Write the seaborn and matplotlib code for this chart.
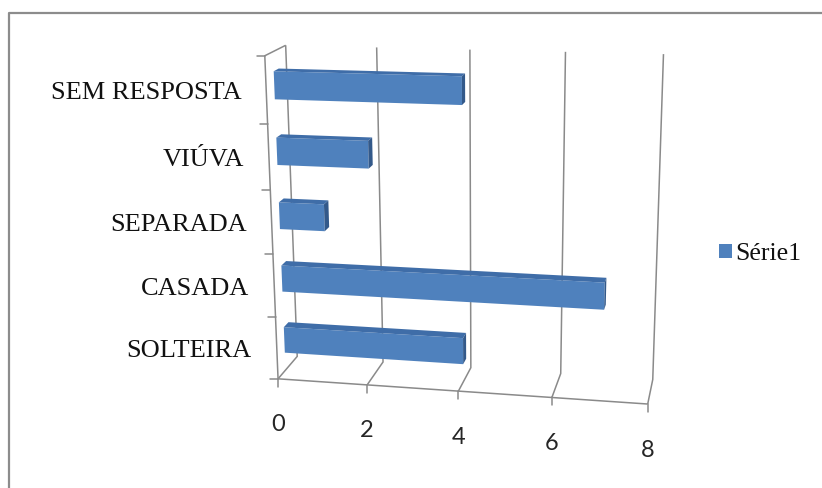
import numpy as np
import pandas as pd
import matplotlib
matplotlib.use("Agg")
import matplotlib.pyplot as plt
import matplotlib.transforms as mtransforms
from matplotlib.lines import Line2D
from matplotlib.patches import Polygon
import seaborn as sns

# ---- data -------------------------------------------------------------
categorias = ["SEM RESPOSTA", "VIÚVA", "SEPARADA", "CASADA", "SOLTEIRA"]
valores = [4, 2, 1, 7, 4]
serie = "Série1"
xticks = [0, 2, 4, 6, 8]
xticklabels = ["0", "2", "4", "6", "8"]

# ---- figure -------------------------------------------------------------
W, H = 822, 488
DPI = 100
sns.set_theme(style="white")
plt.rcParams["font.family"] = ["Liberation Serif", "DejaVu Serif"]

fig = plt.figure(figsize=(W / DPI, H / DPI), dpi=DPI)
fig.patch.set_facecolor("white")
ax = fig.add_axes([0, 0, 1, 1])
ax.set_axis_off()
PIX = mtransforms.IdentityTransform()

# ---- 3D box (value, height, depth) -> canvas pixel perspective camera -----
box3d = np.array([
    [0, 5, 0], [0, 5, 1], [0, 0, 0], [0, 0, 1], [8, 0, 0], [8, 5, 1],
    [2, 5, 1], [4, 5, 1], [6, 5, 1],
    [2, 0, 1], [4, 0, 1], [6, 0, 1],
    [2, 0, 0], [4, 0, 0], [6, 0, 0],
], dtype=float)
box2d = np.array([
    [265, 55], [285, 47], [278, 379], [297, 355], [647, 403], [663, 54],
    [377, 47], [470, 49], [566, 52],
    [383, 362], [470, 367], [562, 375],
    [368, 385], [458, 393], [552, 397],
], dtype=float)


def _norm(pts):
    c = pts.mean(axis=0)
    d = np.sqrt(((pts - c) ** 2).sum(axis=1)).mean()
    k = np.sqrt(pts.shape[1]) / d
    T = np.eye(pts.shape[1] + 1)
    T[:-1, :-1] *= k
    T[:-1, -1] = -k * c
    return T


def fit_camera(X, u):
    TX, Tu = _norm(X), _norm(u)
    Xh = (TX @ np.c_[X, np.ones(len(X))].T).T
    uh = (Tu @ np.c_[u, np.ones(len(u))].T).T
    rows = []
    for P, (a, b, _) in zip(Xh, uh):
        rows.append(np.r_[P, np.zeros(4), -a * P])
        rows.append(np.r_[np.zeros(4), P, -b * P])
    _, _, Vt = np.linalg.svd(np.array(rows))
    return np.linalg.inv(Tu) @ Vt[-1].reshape(3, 4) @ TX


CAM = fit_camera(box3d, box2d)


def to_display(x, h, z):
    x, h, z = np.broadcast_arrays(np.asarray(x, float), np.asarray(h, float),
                                  np.asarray(z, float))
    p = CAM @ np.vstack([x.ravel(), h.ravel(), z.ravel(), np.ones(x.size)])
    return np.column_stack([p[0] / p[2], H - p[1] / p[2]])


class ChartProjection(mtransforms.Transform):
    """Maps 2D coordinates lifted into the 3D chart box onto the canvas."""
    input_dims = output_dims = 2
    is_separable = False
    has_inverse = False

    def __init__(self, lift):
        super().__init__()
        self._lift = lift

    def transform_non_affine(self, values):
        v = np.asarray(values, dtype=float).reshape(-1, 2)
        return to_display(*self._lift(v[:, 0], v[:, 1]))


n_cat = len(categorias)
TOP = float(n_cat)


def h_of(y):
    # seaborn puts the first category at y=0 (top); height grows upwards
    return (n_cat - 0.5) - np.asarray(y, float)


Z_FRONT, Z_BACK = 0.38, 0.62
GRID = "#8a8a8a"
LW = 1.1

# ---- bars ----------------------------------------------------------------
df = pd.DataFrame({"categoria": categorias, "valor": valores})
C_FRONT, C_TOP, C_END = "#4f81bd", "#3f6da8", "#33598a"

sns.barplot(data=df, x="valor", y="categoria", orient="h", color=C_FRONT,
            saturation=1, width=0.42, linewidth=0, label=serie, ax=ax)
bars = list(ax.patches)

bar_face = ChartProjection(lambda a, b: (a, h_of(b), np.full_like(a, Z_FRONT)))
for patch in bars:
    x0, y0 = patch.get_x(), patch.get_y()
    x1, y1 = x0 + patch.get_width(), y0 + patch.get_height()
    patch.set_transform(bar_face)
    patch.set_clip_on(False)
    patch.set_zorder(3)
    htop = float(h_of(y0))
    top_face = ChartProjection(lambda a, b, hh=htop: (a, np.full_like(a, hh), b))
    ax.add_artist(Polygon([(x0, Z_FRONT), (x1, Z_FRONT), (x1, Z_BACK), (x0, Z_BACK)],
                          closed=True, transform=top_face, facecolor=C_TOP,
                          edgecolor="none", clip_on=False, zorder=3))
    end_face = ChartProjection(lambda a, b, xx=x1: (np.full_like(a, xx), h_of(a), b))
    ax.add_artist(Polygon([(y0, Z_FRONT), (y1, Z_FRONT), (y1, Z_BACK), (y0, Z_BACK)],
                          closed=True, transform=end_face, facecolor=C_END,
                          edgecolor="none", clip_on=False, zorder=3))


# ---- walls, floor, gridlines and ticks -----------------------------------
def poly3d(points):
    pts = np.asarray(points, float)
    d = to_display(pts[:, 0], pts[:, 1], pts[:, 2])
    ax.add_artist(Polygon(d, closed=False, fill=False, edgecolor=GRID, lw=LW,
                          transform=PIX, clip_on=False, zorder=2))


def pix_line(xs, ys):
    ax.add_artist(Line2D(xs, ys, transform=PIX, color=GRID, lw=LW,
                         clip_on=False, zorder=2))


xmin, xmax = xticks[0], xticks[-1]
for t in xticks:
    poly3d([(t, TOP, 1), (t, 0, 1), (t, 0, 0)])   # back wall + floor gridline
# side wall top edge, category axis and value axis
poly3d([(xmin, TOP, 1), (xmin, TOP, 0), (xmin, 0, 0), (xmax, 0, 0)])
for t in xticks:
    d = to_display(t, 0, 0)[0]
    pix_line([d[0], d[0]], [d[1], d[1] - 8])
for k in range(n_cat + 1):
    d = to_display(xmin, k, 0)[0]
    pix_line([d[0] - 8, d[0]], [d[1], d[1]])

# ---- labels --------------------------------------------------------------
for i, name in enumerate(categorias):
    p = to_display(xmin, h_of(i), 0)[0]
    ax.text(p[0] - 25, p[1] - 3, name, transform=PIX,
            ha="right", va="center", fontsize=19, color="#111111",
            family=["Liberation Serif", "DejaVu Serif"])

for t, lab in zip(xticks, xticklabels):
    p = to_display(t, 0, 0)[0]
    ax.text(p[0], p[1] - 46, lab, transform=PIX,
            ha="center", va="center", fontsize=17, color="#262626",
            family=["Lato", "DejaVu Sans"])

leg = ax.legend(handles=bars[:1], labels=[serie], loc="center left",
                bbox_to_anchor=(719 / W, 1 - 254 / H),
                bbox_transform=fig.transFigure, frameon=False, borderpad=0,
                borderaxespad=0, handlelength=0.5, handleheight=0.5,
                handletextpad=0.15,
                prop={"family": ["Liberation Serif", "DejaVu Serif"], "size": 18.5})
for txt in leg.get_texts():
    txt.set_color("#111111")

# ---- outer frame -------------------------------------------------------
fig.add_artist(Line2D([9, 9, W], [0, H - 13, H - 13], color="#8c8c8c", lw=1.6,
                      transform=PIX))

fig.canvas.draw()
fig.savefig("out.png", dpi=DPI, facecolor="white")
